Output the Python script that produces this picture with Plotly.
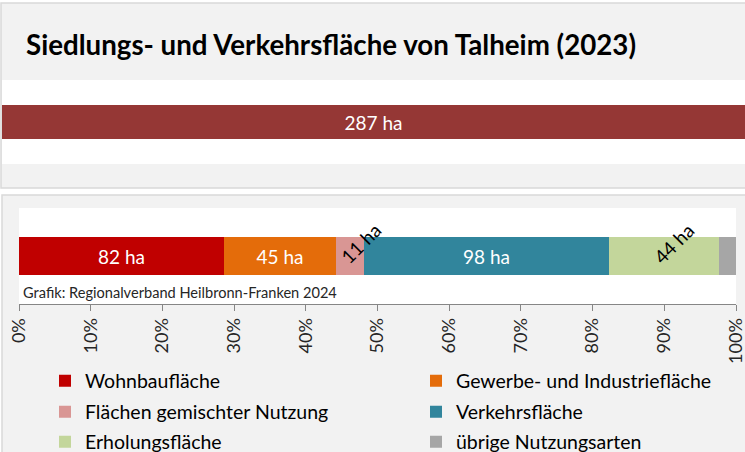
import plotly.graph_objects as go

# ---- data -------------------------------------------------------------
title = "Siedlungs- und Verkehrsfläche von Talheim (2023)"
source_note = "Grafik: Regionalverband Heilbronn-Franken 2024"

total_ha = 287

categories = [
    "Wohnbaufläche",
    "Gewerbe- und Industriefläche",
    "Flächen gemischter Nutzung",
    "Verkehrsfläche",
    "Erholungsfläche",
    "übrige Nutzungsarten",
]
area_ha = [82, 45, 11, 98, 44, 7]

tick_values = [0, 10, 20, 30, 40, 50, 60, 70, 80, 90, 100]
tick_labels = ["0%", "10%", "20%", "30%", "40%", "50%", "60%", "70%", "80%", "90%", "100%"]

# ---- styling ----------------------------------------------------------
W, H = 745, 452
FONT = "Lato, 'Open Sans', sans-serif"

total_color = "#953735"
colors = ["#C00000", "#E46C0A", "#D99694", "#31859C", "#C3D69B", "#A6A6A6"]
# how each segment is labelled: centred inside, tilted above, or not at all
label_mode = ["inside", "inside", "tilted", "inside", "tilted", "none"]

# legend grid (pixel positions of the colour squares / row centres)
legend_cols = [59, 430]
legend_rows = [381, 412, 442]


def px_x(p):
    return p / W


def px_y(p):
    return 1 - p / H


share = [v / sum(area_ha) * 100 for v in area_ha]

fig = go.Figure()

# total area as one wide bar
fig.add_trace(go.Bar(
    x=[total_ha], y=[0], orientation="h",
    marker=dict(color=total_color, line=dict(width=0)),
    width=0.405,
    text=[f"{total_ha} ha"], textposition="inside", insidetextanchor="middle",
    textangle=0, textfont=dict(color="white", size=19, family=FONT),
    xaxis="x", yaxis="y", showlegend=False, hoverinfo="skip",
))

# composition as a 100 % stacked bar
annotations = []
left = 0.0
for i, (cat, v, s, col, mode) in enumerate(zip(categories, area_ha, share, colors, label_mode)):
    legend_key = "legend" if i == 0 else f"legend{i + 1}"
    fig.add_trace(go.Bar(
        x=[s], y=[0], orientation="h", name=cat,
        marker=dict(color=col, line=dict(width=0)),
        width=0.406,
        text=[f"{v} ha" if mode == "inside" else ""],
        textposition="inside", insidetextanchor="middle", textangle=0,
        textfont=dict(color="white", size=19, family=FONT),
        xaxis="x2", yaxis="y2", legend=legend_key, hoverinfo="skip",
    ))
    if mode == "tilted":
        annotations.append(dict(
            x=left + s / 2, y=0, xref="x2", yref="y2",
            text=f"{v} ha", showarrow=False, textangle=-45,
            xshift=10, yshift=13,
            font=dict(size=19, color="black", family=FONT),
        ))
    left += s

annotations.append(dict(
    x=px_x(24), y=px_y(45), xref="paper", yref="paper",
    xanchor="left", yanchor="middle", showarrow=False,
    text=f"<b>{title}</b>", font=dict(size=27.7, color="black", family=FONT),
))
annotations.append(dict(
    x=px_x(21), y=px_y(292), xref="paper", yref="paper",
    xanchor="left", yanchor="middle", showarrow=False,
    text=source_note, font=dict(size=14.6, color="#262626", family=FONT),
))

shapes = [
    # upper panel
    dict(type="rect", xref="paper", yref="paper", layer="below",
         x0=px_x(1), x1=1.02, y0=px_y(188), y1=px_y(3),
         fillcolor="#F2F2F2", line=dict(color="#D9D9D9", width=1.5)),
    # lower panel
    dict(type="rect", xref="paper", yref="paper", layer="below",
         x0=px_x(2), x1=1.02, y0=-0.05, y1=px_y(195),
         fillcolor="#F2F2F2", line=dict(color="#D9D9D9", width=1.5)),
    # plot areas
    dict(type="rect", xref="x domain", yref="y domain", layer="below",
         x0=0, x1=1, y0=0, y1=1, fillcolor="white", line=dict(width=0)),
    dict(type="rect", xref="x2 domain", yref="y2 domain", layer="below",
         x0=0, x1=1, y0=0, y1=1, fillcolor="white", line=dict(width=0)),
]

layout = dict(
    width=W, height=H,
    margin=dict(l=0, r=0, t=0, b=0, autoexpand=False),
    paper_bgcolor="white", plot_bgcolor="rgba(0,0,0,0)",
    font=dict(family=FONT, color="black"),
    barmode="stack", bargap=0,
    xaxis=dict(domain=[px_x(2), 1], range=[0, total_ha], visible=False, fixedrange=True),
    yaxis=dict(domain=[px_y(164), px_y(80)], range=[-0.5, 0.5], visible=False, fixedrange=True),
    xaxis2=dict(
        domain=[px_x(19), px_x(736)], range=[0, 100], anchor="y2",
        tickmode="array", tickvals=tick_values, ticktext=tick_labels,
        tickangle=-90, ticks="outside", ticklen=6, tickcolor="#868686",
        showline=True, linecolor="#868686", linewidth=1,
        showgrid=False, zeroline=False, fixedrange=True, automargin=False,
        ticklabeloverflow="allow",
        tickfont=dict(size=18, color="#262626", family=FONT),
    ),
    yaxis2=dict(domain=[px_y(304), px_y(208)], range=[-0.5, 0.5], anchor="x2",
                visible=False, fixedrange=True),
    annotations=annotations,
    shapes=shapes,
)

# one legend per entry, laid out as a two-column grid
for i in range(len(categories)):
    key = "legend" if i == 0 else f"legend{i + 1}"
    layout[key] = dict(
        x=px_x(legend_cols[i % 2] - 14), y=px_y(legend_rows[i // 2]),
        xref="container", yref="container",
        xanchor="left", yanchor="middle", orientation="h",
        bgcolor="rgba(0,0,0,0)", borderwidth=0,
        font=dict(size=19.5, color="black", family=FONT),
    )

fig.update_layout(**layout)
fig.write_html("out.html")
